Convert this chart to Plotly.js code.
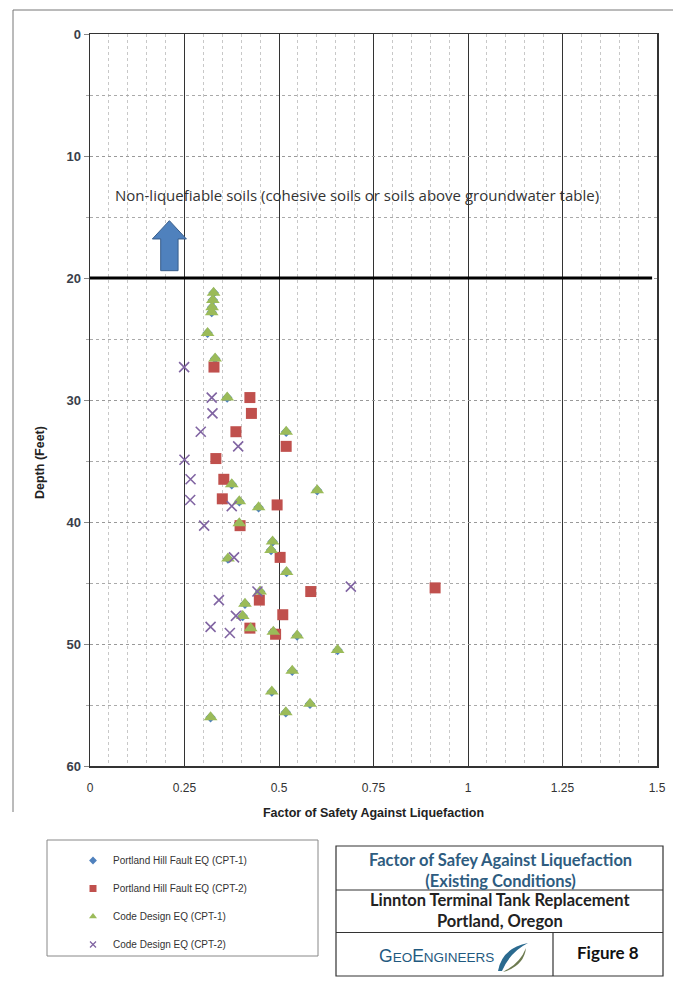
<!DOCTYPE html>
<html>
<head>
<meta charset="utf-8">
<script src="https://cdn.plot.ly/plotly-3.0.1.min.js"></script>
<style>body{margin:0;padding:0;background:#fff;}#chart{width:673px;height:982px;}</style>
</head>
<body>
<div id="chart"></div>
<script>
// ---------- data ----------
// CPT-1: Portland Hill Fault EQ and Code Design EQ plot at the same points
var depthCPT1 = [21.2, 21.8, 22.4, 22.8, 24.5, 26.6, 29.8, 32.6, 36.9, 37.4, 38.3, 38.8, 40.1, 41.6, 42.3, 43.0, 44.1, 45.7, 46.7, 47.7, 48.7, 49.0, 49.3, 50.5, 52.2, 53.9, 54.9, 55.6, 56.0];
var fsPortlandCPT1 = [0.327, 0.325, 0.323, 0.322, 0.311, 0.331, 0.363, 0.519, 0.375, 0.601, 0.395, 0.446, 0.395, 0.483, 0.479, 0.365, 0.520, 0.450, 0.410, 0.404, 0.425, 0.485, 0.548, 0.655, 0.535, 0.481, 0.582, 0.518, 0.319];
var fsCodeCPT1     = [0.327, 0.325, 0.323, 0.322, 0.311, 0.331, 0.363, 0.519, 0.375, 0.601, 0.395, 0.446, 0.395, 0.483, 0.479, 0.365, 0.520, 0.450, 0.410, 0.404, 0.425, 0.485, 0.548, 0.655, 0.535, 0.481, 0.582, 0.518, 0.319];

// CPT-2
var depthCPT2 = [27.3, 29.8, 31.1, 32.6, 33.8, 34.8, 36.5, 38.1, 38.6, 40.3, 42.9, 45.7, 45.4, 46.4, 47.6, 48.7, 49.2];
var fsPortlandCPT2 = [0.328, 0.423, 0.427, 0.386, 0.519, 0.333, 0.354, 0.350, 0.495, 0.397, 0.503, 0.584, 0.913, 0.448, 0.510, 0.423, 0.491];
var depthCodeCPT2 = [27.3, 29.8, 31.1, 32.6, 33.8, 34.9, 36.5, 38.2, 38.7, 40.3, 42.9, 45.7, 45.3, 46.4, 47.7, 48.6, 49.1];
var fsCodeCPT2 = [0.249, 0.322, 0.324, 0.293, 0.392, 0.250, 0.266, 0.265, 0.375, 0.302, 0.381, 0.443, 0.690, 0.341, 0.386, 0.319, 0.370];

var seriesNames = ["Portland Hill Fault EQ (CPT-1)", "Portland Hill Fault EQ (CPT-2)", "Code Design EQ (CPT-1)", "Code Design EQ (CPT-2)"];
var seriesColors = ["#4f81bd", "#c0504d", "#9bbb59", "#8064a2"];
var xTickVals = [0, 0.25, 0.5, 0.75, 1, 1.25, 1.5];
var xTickText = ["0", "0.25", "0.5", "0.75", "1", "1.25", "1.5"];
var yTickVals = [0, 10, 20, 30, 40, 50, 60];
var groundwaterDepth = 20;

// ---------- layout helpers (pixel -> paper) ----------
var W = 673, H = 982, L = 90, R = 16, T = 34, B = 216;
var PW = W - L - R, PH = H - T - B;
function px(x) { return (x - L) / PW; }
function py(y) { return (H - B - y) / PH; }

var narrow = "Liberation Sans Narrow, Arial Narrow, Liberation Sans, Arial, sans-serif";
var sans = "Liberation Sans, Arial, sans-serif";
var lato = "Lato, Open Sans, sans-serif";

var symbols = ["diamond", "square", "triangle-up", "x-thin-open"];
var plotSizes = [8, 11, 12, 10];
var legendSizes = [6, 7, 7, 6];
var xs = [fsPortlandCPT1, fsPortlandCPT2, fsCodeCPT1, fsCodeCPT2];
var ys = [depthCPT1, depthCPT2, depthCPT1, depthCodeCPT2];

var traces = [];
for (var i = 0; i < 4; i++) {
  traces.push({x: xs[i], y: ys[i], name: seriesNames[i], type: "scatter", mode: "markers",
    legendgroup: "g" + i, showlegend: false,
    marker: {symbol: symbols[i], size: plotSizes[i], color: seriesColors[i],
      line: {width: symbols[i] === "x-thin-open" ? 1.6 : 0, color: seriesColors[i]}}});
}
// legend entries with the small symbols of the original legend
for (var j = 0; j < 4; j++) {
  traces.push({x: [null], y: [null], name: seriesNames[j], type: "scatter", mode: "markers",
    legendgroup: "g" + j, showlegend: true,
    marker: {symbol: symbols[j], size: legendSizes[j], color: seriesColors[j],
      line: {width: symbols[j] === "x-thin-open" ? 1.3 : 0, color: seriesColors[j]}}});
}

var ax = 0.210;
var arrowPath = "M" + (ax - 0.023) + ",19.4 L" + (ax - 0.023) + ",16.8 L" + (ax - 0.045) + ",16.8 L" + ax + ",15.3 L" +
  (ax + 0.045) + ",16.8 L" + (ax + 0.023) + ",16.8 L" + (ax + 0.023) + ",19.4 Z";

var swoosh1 = "M" + px(498) + "," + py(971) + " Q" + px(502) + "," + py(948) + " " + px(528) + "," + py(943) +
  " Q" + px(510) + "," + py(952) + " " + px(502) + "," + py(971) + " Z";
var swoosh2 = "M" + px(503) + "," + py(972) + " Q" + px(524) + "," + py(966) + " " + px(526) + "," + py(948) +
  " Q" + px(520) + "," + py(963) + " " + px(506) + "," + py(970) + " Z";

var shapes = [
  {type: "line", xref: "paper", yref: "paper", x0: px(13), x1: px(13), y0: py(10), y1: py(812), line: {color: "#777", width: 1}},
  {type: "line", xref: "paper", yref: "paper", x0: px(13), x1: px(673), y0: py(10), y1: py(10), line: {color: "#777", width: 1}},
  {type: "line", xref: "x", yref: "y", x0: 0, x1: 1.487, y0: groundwaterDepth, y1: groundwaterDepth, line: {color: "#000", width: 3}},
  {type: "path", xref: "x", yref: "y", path: arrowPath, fillcolor: "#4f81bd", line: {color: "#385d8a", width: 1}},
  {type: "rect", xref: "paper", yref: "paper", x0: px(47), x1: px(318), y0: py(840), y1: py(956), line: {color: "#888", width: 1}, fillcolor: "rgba(0,0,0,0)"},
  {type: "rect", xref: "paper", yref: "paper", x0: px(336), x1: px(663), y0: py(846), y1: py(976), line: {color: "#333", width: 1.2}, fillcolor: "rgba(0,0,0,0)"},
  {type: "line", xref: "paper", yref: "paper", x0: px(336), x1: px(663), y0: py(890), y1: py(890), line: {color: "#333", width: 1.2}},
  {type: "line", xref: "paper", yref: "paper", x0: px(336), x1: px(663), y0: py(932.5), y1: py(932.5), line: {color: "#333", width: 1.2}},
  {type: "line", xref: "paper", yref: "paper", x0: px(553), x1: px(553), y0: py(932.5), y1: py(976), line: {color: "#333", width: 1.2}},
  {type: "path", xref: "paper", yref: "paper", path: swoosh1, fillcolor: "#2b6a8f", line: {width: 0}},
  {type: "path", xref: "paper", yref: "paper", path: swoosh2, fillcolor: "#6d7a50", line: {width: 0}}
];

var annotations = [
  {xref: "x", yref: "y", x: 0.060, y: 13.2, xanchor: "left", yanchor: "middle", showarrow: false,
   text: "Non-liquefiable soils (cohesive soils or soils above groundwater table)",
   font: {family: "Open Sans, Lato, sans-serif", size: 15, color: "#333"}},
  {xref: "paper", yref: "paper", x: px(40), y: py(463), xanchor: "center", yanchor: "middle", textangle: -90, showarrow: false,
   text: "<b>Depth (Feet)</b>", font: {family: narrow, size: 12.5, color: "#222"}},
  {xref: "paper", yref: "paper", x: px(500), y: py(870.5), xanchor: "center", yanchor: "middle", showarrow: false,
   text: "<b>Factor of Safey Against Liquefaction<br>(Existing Conditions)</b>",
   font: {family: lato, size: 16.5, color: "#2e5c80"}},
  {xref: "paper", yref: "paper", x: px(500), y: py(910.5), xanchor: "center", yanchor: "middle", showarrow: false,
   text: "<b>Linnton Terminal Tank Replacement<br>Portland, Oregon</b>",
   font: {family: lato, size: 16.5, color: "#222"}},
  {xref: "paper", yref: "paper", x: px(436), y: py(956), xanchor: "center", yanchor: "middle", showarrow: false,
   text: "G<span style=\"font-size:13.5px\">EO</span>E<span style=\"font-size:13.5px\">NGINEERS</span>",
   font: {family: sans, size: 17.5, color: "#1f5a80"}},
  {xref: "paper", yref: "paper", x: px(608), y: py(952), xanchor: "center", yanchor: "middle", showarrow: false,
   text: "<b>Figure 8</b>", font: {family: lato, size: 17, color: "#111"}}
];

var layout = {
  width: W, height: H,
  margin: {l: L, r: R, t: T, b: B, pad: 0},
  paper_bgcolor: "#fff", plot_bgcolor: "#fff",
  showlegend: true,
  legend: {x: px(73), y: py(846), xanchor: "left", yanchor: "top", traceorder: "grouped", tracegroupgap: 9,
    itemwidth: 30, font: {family: sans, size: 10, color: "#333"}, bgcolor: "rgba(0,0,0,0)", borderwidth: 0},
  xaxis: {
    range: [0, 1.5], tickvals: xTickVals, ticktext: xTickText, ticks: "", ticklabelstandoff: 10,
    showgrid: true, gridcolor: "#333", gridwidth: 1,
    minor: {dtick: 0.05, showgrid: true, gridcolor: "#c8c8c8", griddash: "dot", gridwidth: 1, ticks: ""},
    showline: true, linecolor: "#333", linewidth: 1.5, mirror: true, zeroline: false,
    tickfont: {family: sans, size: 12, color: "#333"},
    title: {text: "<b>Factor of Safety Against Liquefaction</b>", font: {family: narrow, size: 12.5, color: "#222"}, standoff: 14}
  },
  yaxis: {
    range: [60, 0], tickvals: yTickVals, ticks: "outside", ticklen: 5, tickcolor: "#888",
    showgrid: true, gridcolor: "#999", griddash: "dot", gridwidth: 1,
    minor: {dtick: 5, showgrid: true, gridcolor: "#aaa", griddash: "dot", gridwidth: 1, ticks: "outside", ticklen: 3, tickcolor: "#aaa"},
    showline: true, linecolor: "#333", linewidth: 1.5, mirror: true, zeroline: false,
    tickfont: {family: sans, size: 13, color: "#3a3f4a", weight: "bold"}
  },
  shapes: shapes,
  annotations: annotations
};

Plotly.newPlot("chart", traces, layout, {displayModeBar: false, staticPlot: true});
</script>
</body>
</html>
